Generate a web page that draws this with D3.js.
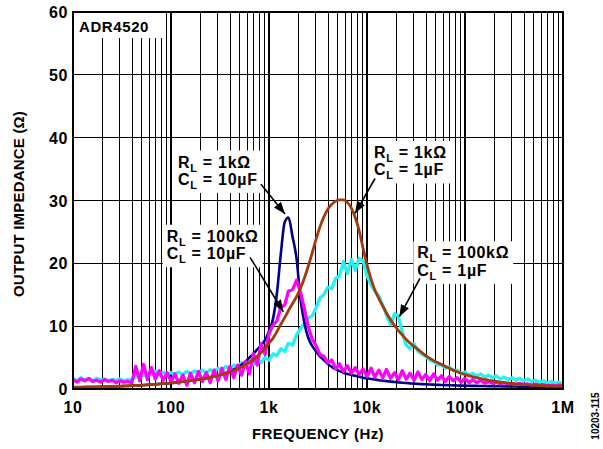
<!DOCTYPE html>
<html>
<head>
<meta charset="utf-8">
<script src="https://cdn.jsdelivr.net/npm/d3@7"></script>
<style>
body { margin: 0; background: #fff; }
text { font-family: Arial, "Liberation Sans", Helvetica, sans-serif; font-weight: bold; fill: #000; }
</style>
</head>
<body>
<svg id="chart" width="603" height="449"></svg>
<script>
// frequency sweep (Hz), shared by all four traces
var freqHz = [
  10, 11, 12, 13.2, 14.5, 15.8, 17.4, 19.1, 20.9, 22.9, 25.1, 27.5, 30.2, 33.1, 36.3, 39.8, 43.7, 47.9, 52.5, 57.5, 63.1, 69.2, 75.9, 83.2, 91.2,
  100, 110, 120, 132, 145, 158, 174, 191, 209, 229, 251, 275, 302, 331, 363, 398, 437, 479, 525, 575, 631, 692, 759, 832, 912,
  1000, 1100, 1200, 1320, 1450, 1580, 1740, 1910, 2090, 2290, 2510, 2750, 3020, 3310, 3630, 3980, 4370, 4790, 5250, 5750, 6310, 6920, 7590, 8320, 9120,
  1e4, 1.1e4, 1.2e4, 1.32e4, 1.45e4, 1.58e4, 1.74e4, 1.91e4, 2.09e4, 2.29e4, 2.51e4, 2.75e4, 3.02e4, 3.31e4, 3.63e4, 3.98e4, 4.37e4, 4.79e4, 5.25e4, 5.75e4, 6.31e4, 6.92e4, 7.59e4, 8.32e4, 9.12e4,
  1e5, 1.1e5, 1.2e5, 1.32e5, 1.45e5, 1.58e5, 1.74e5, 1.91e5, 2.09e5, 2.29e5, 2.51e5, 2.75e5, 3.02e5, 3.31e5, 3.63e5, 3.98e5, 4.37e5, 4.79e5, 5.25e5, 5.75e5, 6.31e5, 6.92e5, 7.59e5, 8.32e5, 9.12e5,
  1e6
];

// output impedance (ohm) for each load
// RL = 1k, CL = 10uF
var navyZ = [
  0.27, 0.28, 0.29, 0.30, 0.31, 0.32, 0.33, 0.35, 0.36, 0.38, 0.40, 0.42, 0.44, 0.47, 0.49, 0.52, 0.55, 0.58, 0.62, 0.66, 0.70, 0.74, 0.79, 0.84, 0.89,
  0.95, 1.01, 1.08, 1.15, 1.23, 1.31, 1.40, 1.50, 1.61, 1.73, 1.87, 2.02, 2.18, 2.36, 2.56, 2.80, 3.10, 3.45, 3.85, 4.35, 5.0, 5.6, 6.3, 7.0, 7.8,
  9.2, 11.2, 15.0, 21.5, 26.6, 27.3, 24.2, 20.8, 14.5, 10.6, 8.2, 6.9, 6.0, 5.2, 4.6, 4.0, 3.5, 3.15, 2.85, 2.6, 2.4, 2.25, 2.1, 1.95, 1.8,
  1.7, 1.6, 1.5, 1.4, 1.32, 1.25, 1.18, 1.12, 1.06, 1.0, 0.95, 0.9, 0.86, 0.82, 0.78, 0.75, 0.72, 0.69, 0.66, 0.64, 0.62, 0.6, 0.58, 0.56, 0.54,
  0.52, 0.51, 0.50, 0.49, 0.48, 0.47, 0.46, 0.45, 0.44, 0.43, 0.42, 0.41, 0.40, 0.39, 0.38, 0.37, 0.36, 0.35, 0.34, 0.33, 0.32, 0.31, 0.30, 0.29, 0.28,
  0.27
];
// RL = 1k, CL = 1uF
var brownZ = [
  0.28, 0.29, 0.30, 0.31, 0.32, 0.33, 0.34, 0.36, 0.37, 0.39, 0.41, 0.43, 0.45, 0.48, 0.50, 0.53, 0.56, 0.59, 0.63, 0.67, 0.71, 0.75, 0.80, 0.85, 0.90,
  0.96, 1.02, 1.09, 1.16, 1.24, 1.32, 1.41, 1.51, 1.62, 1.74, 1.87, 2.0, 2.15, 2.32, 2.5, 2.7, 2.95, 3.2, 3.5, 3.85, 4.25, 4.7, 5.2, 5.8, 6.5,
  7.3, 8.1, 9.1, 10.3, 11.4, 12.5, 13.6, 14.7, 16.0, 17.6, 19.5, 21.6, 23.8, 25.8, 27.4, 28.6, 29.4, 29.9, 30.1, 30.1, 29.7, 28.8, 27.3, 25.2, 22.4,
  19.8, 17.5, 15.8, 14.4, 13.2, 12.1, 11.0, 10.1, 9.3, 8.6, 7.9, 7.3, 6.8, 6.3, 5.8, 5.3, 4.9, 4.5, 4.2, 3.9, 3.6, 3.3, 3.0, 2.75, 2.5,
  2.3, 2.1, 1.95, 1.8, 1.65, 1.52, 1.4, 1.3, 1.2, 1.1, 1.02, 0.95, 0.88, 0.82, 0.77, 0.72, 0.68, 0.64, 0.6, 0.57, 0.54, 0.51, 0.48, 0.46, 0.44,
  0.42
];
// RL = 100k, CL = 10uF
var magentaZ = [
  1.5, 1.1, 1.6, 1.3, 1.7, 1.2, 1.4, 1.1, 1.5, 1.2, 1.4, 1.0, 1.3, 1.1, 1.2, 1.0, 3.6, 1.3, 3.9, 1.5, 3.4, 1.6, 2.9, 1.4, 2.6,
  1.2, 2.4, 0.9, 2.2, 0.6, 2.5, 1.0, 2.8, 1.2, 2.6, 1.0, 3.0, 1.3, 3.3, 1.5, 3.6, 1.8, 3.8, 2.2, 4.4, 2.4, 5.6, 3.8, 7.2, 5.5,
  8.8, 10.2, 10.8, 13.0, 13.4, 15.6, 15.8, 17.3, 15.5, 12.8, 10.0, 8.0, 6.9, 5.5, 5.2, 4.2, 4.6, 3.2, 4.0, 2.8, 3.7, 2.5, 3.4, 2.3, 3.2,
  2.0, 3.3, 1.9, 3.0, 1.8, 3.1, 1.7, 2.6, 1.5, 2.9, 1.6, 2.5, 1.4, 2.7, 1.5, 2.3, 1.3, 2.4, 1.4, 2.1, 1.2, 2.0, 1.3, 1.8, 1.1,
  1.7, 1.0, 1.5, 1.0, 1.4, 0.9, 1.2, 0.9, 1.1, 0.8, 1.0, 0.8, 0.9, 0.7, 0.9, 0.7, 0.8, 0.6, 0.8, 0.6, 0.7, 0.5, 0.6, 0.5, 0.6,
  0.5
];
// RL = 100k, CL = 1uF
var cyanZ = [
  1.7, 1.3, 1.8, 1.4, 1.6, 1.3, 1.7, 1.4, 1.6, 1.3, 1.5, 1.4, 1.6, 1.3, 1.5, 1.4, 2.0, 2.4, 2.1, 2.6, 2.3, 2.8, 2.4, 2.7, 2.3,
  2.6, 2.4, 2.7, 2.3, 2.8, 2.4, 2.9, 2.5, 3.0, 2.6, 3.1, 2.8, 3.3, 3.0, 3.6, 3.2, 3.8, 3.4, 4.2, 3.6, 4.4, 3.9, 4.5, 4.2, 5.0,
  4.6, 5.6, 5.3, 6.4, 6.0, 7.3, 7.0, 8.6, 9.6, 10.4, 11.3, 11.6, 12.9, 14.5, 15.0, 16.2, 16.0, 17.6, 18.0, 20.3, 18.4, 20.6, 18.9, 20.8, 20.4,
  18.0, 16.6, 15.6, 14.8, 13.3, 11.8, 10.2, 12.0, 11.6, 9.0, 7.0, 6.4, 7.2, 6.0, 5.6, 5.2, 4.6, 4.4, 3.8, 3.9, 3.3, 3.5, 2.9, 3.0, 2.4,
  2.7, 2.2, 2.5, 2.1, 2.4, 1.9, 2.2, 1.8, 2.1, 1.6, 1.9, 1.5, 1.8, 1.4, 1.7, 1.3, 1.6, 1.2, 1.4, 1.1, 1.3, 1.0, 1.2, 0.9, 1.1,
  0.9
];

var yTicks = [0, 10, 20, 30, 40, 50, 60];
var xTicks = [10, 100, 1e3, 1e4, 1e5, 1e6];
var xTickLabels = ["10", "100", "1k", "10k", "100k", "1M"];

// annotations: text anchor, arrow tail and arrow tip, all in (Hz, ohm)
var noteText = [
  [["R", "L", " = 1kΩ"], ["C", "L", " = 10µF"]],
  [["R", "L", " = 1kΩ"], ["C", "L", " = 1µF"]],
  [["R", "L", " = 100kΩ"], ["C", "L", " = 10µF"]],
  [["R", "L", " = 100kΩ"], ["C", "L", " = 1µF"]]
];
var noteAt = [[118, 35.25], [11780, 36.77], [90.4, 23.44], [32600, 20.8]];
var arrowFrom = [[828, 32.6], [12080, 33.5], [640, 20.96], [34700, 17.6]];
var arrowTo = [[1456, 27.85], [7550, 27.96], [1400, 12.3], [21400, 11.5]];

var svg = d3.select("#chart");
var plotL = 73, plotR = 563, plotT = 12, plotB = 389;

var x = d3.scaleLog().domain([10, 1e6]).range([plotL, plotR]);
var y = d3.scaleLinear().domain([0, 60]).range([plotB, plotT]);

// grid
var grid = svg.append("g").attr("shape-rendering", "crispEdges");
grid.selectAll("line.v")
    .data(x.ticks())
    .enter().append("line")
    .attr("x1", function(d) { return x(d); })
    .attr("x2", function(d) { return x(d); })
    .attr("y1", plotT).attr("y2", plotB)
    .attr("stroke", "#000")
    .attr("stroke-width", function(d) { return xTicks.indexOf(d) >= 0 ? 2 : 1; });
grid.selectAll("line.h")
    .data(yTicks)
    .enter().append("line")
    .attr("x1", plotL).attr("x2", plotR)
    .attr("y1", function(d) { return y(d); })
    .attr("y2", function(d) { return y(d); })
    .attr("stroke", "#000")
    .attr("stroke-width", 1);

// label boxes sit over the grid
var boxes = svg.append("g");

// traces
var line = d3.line()
    .x(function(d) { return x(d[0]); })
    .y(function(d) { return y(d[1]); });
var series = [
  { z: cyanZ, color: "#22f2f2", w: 3.3, curve: d3.curveLinear },
  { z: navyZ, color: "#000088", w: 2.6, curve: d3.curveMonotoneX },
  { z: magentaZ, color: "#ff00ff", w: 3.3, curve: d3.curveLinear },
  { z: brownZ, color: "#a33a0a", w: 2.8, curve: d3.curveMonotoneX }
];
series.forEach(function(s) {
  svg.append("path")
      .datum(freqHz.map(function(f, i) { return [f, s.z[i]]; }))
      .attr("fill", "none")
      .attr("stroke", s.color)
      .attr("stroke-width", s.w)
      .attr("stroke-linejoin", "round")
      .attr("d", line.curve(s.curve));
});

// frame
svg.append("rect")
    .attr("x", plotL).attr("y", plotT)
    .attr("width", plotR - plotL).attr("height", plotB - plotT)
    .attr("fill", "none").attr("stroke", "#000").attr("stroke-width", 2);

// tick labels
svg.selectAll("text.yt")
    .data(yTicks)
    .enter().append("text")
    .attr("x", plotL - 5)
    .attr("y", function(d) { return y(d) + 6; })
    .attr("text-anchor", "end")
    .attr("font-size", 16)
    .attr("letter-spacing", 0.6)
    .text(function(d) { return d; });
svg.selectAll("text.xt")
    .data(xTicks)
    .enter().append("text")
    .attr("x", function(d) { return x(d); })
    .attr("y", 413)
    .attr("text-anchor", "middle")
    .attr("font-size", 16)
    .attr("letter-spacing", 0.6)
    .text(function(d, i) { return xTickLabels[i]; });

// axis titles
svg.append("text")
    .attr("x", 318).attr("y", 438.5)
    .attr("text-anchor", "middle")
    .attr("font-size", 15)
    .attr("letter-spacing", 0.4)
    .text("FREQUENCY (Hz)");
svg.append("text")
    .attr("transform", "translate(23.5,204) rotate(-90)")
    .attr("text-anchor", "middle")
    .attr("font-size", 15)
    .attr("letter-spacing", 0.2)
    .text("OUTPUT IMPEDANCE (Ω)");
svg.append("text")
    .attr("transform", "translate(599,416) rotate(-90)")
    .attr("text-anchor", "middle")
    .attr("font-size", 10)
    .attr("font-weight", "normal")
    .text("10203-115");

// part name
svg.append("text")
    .attr("x", plotL + 6).attr("y", plotT + 19.5)
    .attr("font-size", 15)
    .attr("letter-spacing", 0.6)
    .text("ADR4520");
boxes.append("rect")
    .attr("x", plotL + 1).attr("y", plotT + 1)
    .attr("width", 89).attr("height", 25)
    .attr("fill", "#fff");

// annotations
var notes = svg.append("g");
noteText.forEach(function(lines, n) {
  var g = notes.append("g");
  lines.forEach(function(parts, j) {
    var t = g.append("text")
        .attr("x", x(noteAt[n][0]))
        .attr("y", y(noteAt[n][1]) + j * 17.5)
        .attr("font-size", 16)
        .attr("letter-spacing", 0.7);
    t.append("tspan").text(parts[0]);
    t.append("tspan").attr("font-size", 11).attr("dy", 4).text(parts[1]);
    t.append("tspan").attr("dy", -4).text(parts[2]);
  });
  var b = g.node().getBBox();
  boxes.append("rect")
      .attr("x", b.x - 4).attr("y", b.y - 3)
      .attr("width", b.width + 8).attr("height", b.height + 5)
      .attr("fill", "#fff");
});

svg.append("defs").append("marker")
    .attr("id", "head")
    .attr("markerUnits", "userSpaceOnUse")
    .attr("markerWidth", 14).attr("markerHeight", 10)
    .attr("refX", 12).attr("refY", 4.5)
    .attr("orient", "auto")
    .append("path")
    .attr("d", "M0,0 L12,4.5 L0,9 Z")
    .attr("fill", "#000");

notes.selectAll("line")
    .data(arrowFrom)
    .enter().append("line")
    .attr("x1", function(d) { return x(d[0]); })
    .attr("y1", function(d) { return y(d[1]); })
    .attr("x2", function(d, i) { return x(arrowTo[i][0]); })
    .attr("y2", function(d, i) { return y(arrowTo[i][1]); })
    .attr("stroke", "#000")
    .attr("stroke-width", 1.6)
    .attr("marker-end", "url(#head)");
</script>
</body>
</html>
